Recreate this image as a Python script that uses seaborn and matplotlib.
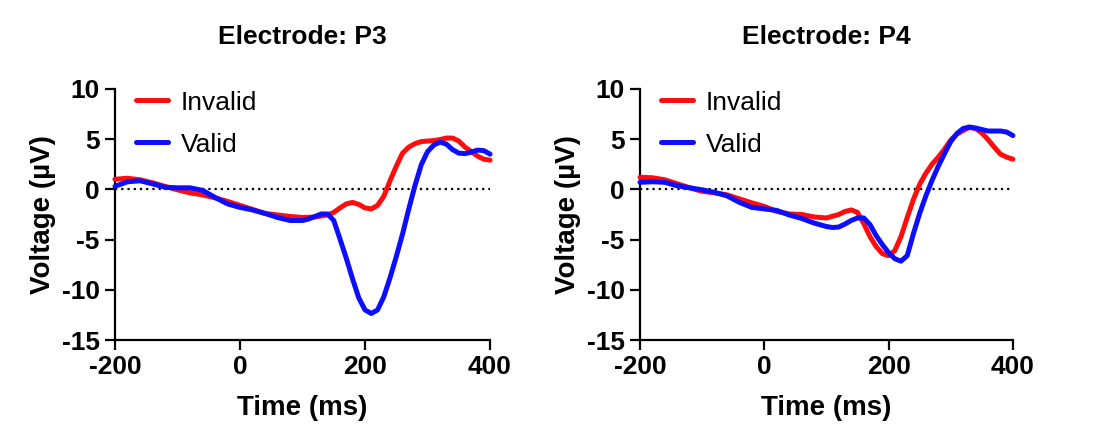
import numpy as np
import pandas as pd
import matplotlib
matplotlib.use("Agg")
import matplotlib.pyplot as plt
import seaborn as sns

# values (time in ms, voltage in µV)
p3_inv_t = [-200, -180, -160, -140, -120, -100, -80, -60, -40, -20, 0, 20, 40, 60, 80, 100, 120, 140, 150,
            160, 170, 180, 190, 200, 210, 220, 230, 240, 250, 260, 270, 280, 290, 300, 310, 320, 330, 340,
            350, 360, 370, 380, 390, 400]
p3_inv_v = [1.0, 1.1, 0.95, 0.65, 0.3, -0.05, -0.35, -0.55, -0.85, -1.2, -1.6, -2.0, -2.4, -2.55, -2.7, -2.8, -2.75, -2.55, -2.3,
            -1.85, -1.45, -1.3, -1.5, -1.85, -1.95, -1.6, -0.7, 0.85, 2.3, 3.6, 4.2, 4.55, 4.75, 4.8, 4.85, 4.95, 5.1, 5.1,
            4.8, 4.2, 3.75, 3.3, 3.0, 2.9]

p3_val_t = [-200, -180, -160, -140, -120, -100, -80, -60, -40, -20, 0, 20, 40, 60, 80, 100, 110, 120, 130, 140,
            150, 160, 170, 180, 190, 200, 210, 220, 230, 240, 250, 260, 270, 280, 290, 300, 310, 320, 330, 340,
            350, 360, 370, 380, 390, 400]
p3_val_v = [0.3, 0.75, 0.85, 0.55, 0.2, 0.15, 0.15, -0.1, -0.8, -1.45, -1.8, -2.05, -2.4, -2.8, -3.1, -3.1, -2.95, -2.7, -2.45, -2.45,
            -3.1, -4.95, -6.85, -8.9, -10.8, -12.0, -12.35, -12.0, -10.7, -8.8, -6.7, -4.45, -1.95, 0.4, 2.45, 3.75, 4.4, 4.7, 4.5, 3.95,
            3.6, 3.55, 3.7, 3.9, 3.85, 3.5]

p4_inv_t = [-200, -180, -160, -140, -120, -100, -80, -60, -40, -20, 0, 20, 40, 60, 80, 100, 120, 130, 140, 150,
            160, 170, 180, 190, 200, 210, 220, 230, 240, 250, 260, 270, 280, 290, 300, 310, 320, 330, 340, 350,
            360, 370, 380, 390, 400]
p4_inv_v = [1.2, 1.15, 0.95, 0.55, 0.15, -0.2, -0.35, -0.55, -0.95, -1.35, -1.7, -2.2, -2.45, -2.5, -2.75, -2.85, -2.5, -2.2, -2.05, -2.3,
            -3.4, -4.7, -5.7, -6.4, -6.6, -6.1, -4.7, -2.8, -1.0, 0.5, 1.6, 2.5, 3.2, 4.0, 4.9, 5.5, 5.85, 6.15, 6.05, 5.6,
            4.95, 4.2, 3.5, 3.2, 3.0]

p4_val_t = [-200, -180, -160, -140, -120, -100, -80, -60, -40, -20, 0, 20, 40, 60, 80, 100, 110, 120, 130, 140,
            150, 160, 170, 180, 190, 200, 210, 220, 230, 240, 250, 260, 270, 280, 290, 300, 310, 320, 330, 340,
            350, 360, 370, 380, 390, 400]
p4_val_v = [0.7, 0.75, 0.7, 0.35, 0.15, -0.05, -0.3, -0.65, -1.3, -1.8, -1.95, -2.1, -2.55, -2.9, -3.35, -3.7, -3.8, -3.75, -3.45, -3.1,
            -2.85, -2.85, -3.5, -4.6, -5.5, -6.3, -6.9, -7.15, -6.6, -4.4, -2.4, -0.65, 0.9, 2.3, 3.55, 4.75, 5.55, 6.05, 6.2, 6.1,
            5.95, 5.8, 5.8, 5.8, 5.7, 5.35]

electrodes = ["P3", "P4"]
conditions = ["Invalid", "Valid"]
x_ticks = [-200, 0, 200, 400]
y_ticks = [-15, -10, -5, 0, 5, 10]


def to_frame(t_inv, v_inv, t_val, v_val):
    a = pd.DataFrame({"time": t_inv, "voltage": v_inv, "cond": "Invalid"})
    b = pd.DataFrame({"time": t_val, "voltage": v_val, "cond": "Valid"})
    return pd.concat([a, b], ignore_index=True)


frames = {
    "P3": to_frame(p3_inv_t, p3_inv_v, p3_val_t, p3_val_v),
    "P4": to_frame(p4_inv_t, p4_inv_v, p4_val_t, p4_val_v),
}

sns.set_style("ticks")
plt.rcParams["font.family"] = ["Liberation Sans", "DejaVu Sans"]
plt.rcParams["axes.unicode_minus"] = False
for key in ["text.color", "axes.labelcolor", "xtick.color", "ytick.color", "axes.edgecolor"]:
    plt.rcParams[key] = "black"

fig = plt.figure(figsize=(11, 4.44), dpi=100)
positions = [[0.1045, 0.234, 0.341, 0.566], [0.5818, 0.234, 0.339, 0.566]]
palette = {"Invalid": "#ff0d0d", "Valid": "#0d0dff"}

for name, pos in zip(electrodes, positions):
    ax = fig.add_axes(pos)
    ax.axhline(0, color="black", ls=(0, (1, 1.8)), lw=1.6, zorder=1)
    sns.lineplot(data=frames[name], x="time", y="voltage", hue="cond", hue_order=conditions,
                 palette=palette, lw=3.6, ax=ax, clip_on=False, zorder=3,
                 solid_joinstyle="round", solid_capstyle="round")
    ax.set_xlim(-200, 400)
    ax.set_ylim(-15, 10)
    ax.set_xticks(x_ticks)
    ax.set_yticks(y_ticks)
    ax.tick_params(width=1.6, length=7, labelsize=19, pad=4)
    for lab in ax.get_xticklabels() + ax.get_yticklabels():
        lab.set_fontweight("bold")
    for side in ["left", "bottom"]:
        ax.spines[side].set_linewidth(1.6)
    sns.despine(ax=ax)
    ax.set_xlabel("Time (ms)", fontsize=20, fontweight="bold", labelpad=11)
    ax.set_ylabel("Voltage (µV)", fontsize=20, fontweight="bold", labelpad=4)
    ax.set_title(f"Electrode: {name}", fontsize=19, fontweight="bold", pad=32)
    leg = ax.legend(loc="upper left", bbox_to_anchor=(0.028, 1.035), frameon=False, fontsize=19,
                    handlelength=1.2, handletextpad=0.5, labelspacing=0.68, borderaxespad=0)
    for h in leg.get_lines():
        h.set_linewidth(3.6)

fig.savefig("out.png", dpi=100)
